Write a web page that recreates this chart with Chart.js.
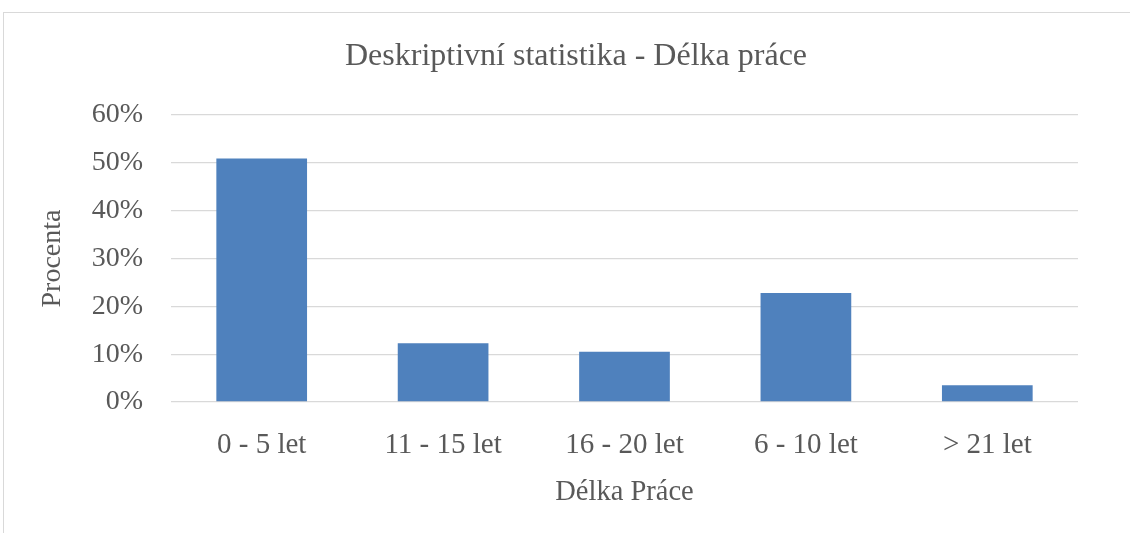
<!DOCTYPE html>
<html>
<head>
<meta charset="utf-8">
<script src="https://cdn.jsdelivr.net/npm/chart.js@4/dist/chart.umd.min.js"></script>
<style>
  html, body { margin: 0; padding: 0; background: #fff; overflow: hidden; }
  #frame { position: absolute; left: 3px; top: 12px; width: 1200px; height: 600px;
           border-left: 1px solid #d9d9d9; border-top: 1px solid #d9d9d9; }
  #wrap { position: absolute; left: 0; top: 0; width: 1130px; height: 533px; }
</style>
</head>
<body>
<div id="frame"></div>
<div id="wrap"><canvas id="chart" width="1130" height="533"></canvas></div>
<script>
const categories = ["0 - 5 let", "11 - 15 let", "16 - 20 let", "6 - 10 let", "> 21 let"];
const percentValues = [50.9, 12.3, 10.5, 22.8, 3.5];
const yTicks = [0, 10, 20, 30, 40, 50, 60];

const textColor = "#595959";
const serif = "'Liberation Serif', 'Times New Roman', serif";

// left padding shifts the chart title to the right; the y axis is widened back with afterFit
const padLeft = 74;

new Chart(document.getElementById("chart"), {
  type: "bar",
  data: {
    labels: categories,
    datasets: [{
      label: "Procenta",
      data: percentValues,
      backgroundColor: "#4f81bd",
      borderWidth: 0,
      categoryPercentage: 1,
      barPercentage: 0.5
    }]
  },
  options: {
    responsive: false,
    animation: false,
    layout: { padding: { left: padLeft, right: 52, top: 0, bottom: 0 } },
    plugins: {
      legend: { display: false },
      tooltip: { enabled: false },
      title: {
        display: true,
        text: "Deskriptivní statistika - Délka práce",
        color: textColor,
        font: { family: serif, size: 32, weight: "normal" },
        padding: { top: 37, bottom: 39.6 }
      }
    },
    scales: {
      x: {
        grid: { display: false },
        border: { display: false },
        ticks: { color: textColor, font: { family: serif, size: 29 }, padding: 18, maxRotation: 0 },
        title: {
          display: true,
          text: "Délka Práce",
          color: textColor,
          font: { family: serif, size: 28.5 },
          padding: { top: 0, bottom: 23 }
        },
        afterFit: s => { s.height = 131; }
      },
      y: {
        min: 0,
        max: 60,
        afterBuildTicks: s => { s.ticks = yTicks.map(v => ({ value: v })); },
        grid: { color: "#d9d9d9", lineWidth: 1.3, drawTicks: false },
        border: { display: false },
        ticks: {
          color: textColor,
          font: { family: serif, size: 28 },
          padding: 28,
          callback: v => v + "%"
        },
        title: {
          display: true,
          text: "Procenta",
          color: textColor,
          font: { family: serif, size: 28 },
          padding: { top: 36 - padLeft, bottom: 0 }
        },
        afterFit: s => { s.width = 171 - padLeft; }
      }
    }
  }
});
</script>
</body>
</html>
